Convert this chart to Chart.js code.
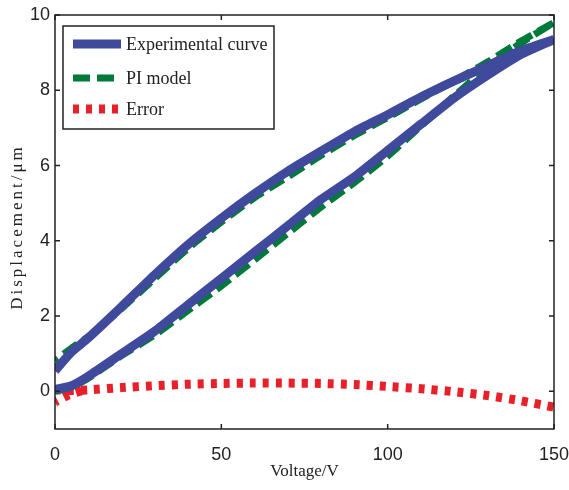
<!DOCTYPE html>
<html lang="en">
<head>
    <meta charset="UTF-8">
    <title>Hysteresis: experiment vs PI model</title>
    <script src="https://cdn.jsdelivr.net/npm/chart.js"></script>
    <style>
        body { margin: 0; background: #fff; }
        #wrap { width: 569px; height: 490px; position: relative; }
    </style>
</head>
<body>
    <div id="wrap"><canvas id="loopChart"></canvas></div>
    <script>
        // voltage samples (V), same for both branches
        const voltage = [0, 5, 10, 20, 30, 40, 50, 60, 70, 80, 90, 100, 110, 120, 130, 140, 150];

        // experimental curve (um): rising and falling branch
        const expRise = [0.05, 0.15, 0.4, 1.0, 1.6, 2.3, 3.0, 3.7, 4.4, 5.1, 5.7, 6.4, 7.1, 7.8, 8.4, 8.95, 9.35];
        const expFall = [0.55, 1.05, 1.42, 2.25, 3.1, 3.9, 4.6, 5.25, 5.85, 6.38, 6.9, 7.35, 7.82, 8.25, 8.65, 9.05, 9.35];

        // PI model (um)
        const modelRise = [0.0, 0.12, 0.35, 0.95, 1.5, 2.15, 2.8, 3.5, 4.2, 4.9, 5.55, 6.25, 7.05, 7.85, 8.6, 9.25, 9.8];
        const modelFall = [0.82, 1.15, 1.45, 2.2, 3.0, 3.8, 4.5, 5.15, 5.7, 6.27, 6.8, 7.28, 7.77, 8.25, 8.75, 9.3, 9.8];

        // error (um); the falling branch only shows apart from the rising one near 0 V
        const errRise = [0.05, 0.02, 0.04, 0.1, 0.15, 0.19, 0.21, 0.22, 0.22, 0.21, 0.18, 0.13, 0.07, -0.01, -0.11, -0.25, -0.42];
        const errFallV = [8, 4, 0];
        const errFall = [0.02, -0.1, -0.28];

        const xTicks = [0, 50, 100, 150];
        const yTicks = [0, 2, 4, 6, 8, 10];

        function loop(rise, fall) {
            const up = voltage.map((v, i) => ({ x: v, y: rise[i] }));
            const down = voltage.map((v, i) => ({ x: v, y: fall[i] })).reverse();
            return up.concat(down);
        }

        const errData = voltage.map((v, i) => ({ x: v, y: errRise[i] }));
        errData.push({ x: 150, y: null });
        errFallV.forEach((v, i) => errData.push({ x: v, y: errFall[i] }));

        const serif = '"Liberation Serif", "DejaVu Serif", serif';
        const sans = '"Liberation Sans Narrow", "Liberation Sans", Arial, sans-serif';

        // frame with inward ticks, axis titles and boxed legend
        const framePlugin = {
            id: 'frame',
            afterDraw(chart) {
                const ctx = chart.ctx;
                const a = chart.chartArea;
                const sx = chart.scales.x, sy = chart.scales.y;
                ctx.save();
                ctx.strokeStyle = '#222';
                ctx.lineWidth = 1.5;
                ctx.strokeRect(a.left, a.top, a.right - a.left, a.bottom - a.top);
                ctx.beginPath();
                xTicks.forEach(v => {
                    const px = sx.getPixelForValue(v);
                    ctx.moveTo(px, a.bottom); ctx.lineTo(px, a.bottom - 5);
                    ctx.moveTo(px, a.top); ctx.lineTo(px, a.top + 5);
                });
                yTicks.forEach(v => {
                    const py = sy.getPixelForValue(v);
                    ctx.moveTo(a.left, py); ctx.lineTo(a.left + 5, py);
                    ctx.moveTo(a.right, py); ctx.lineTo(a.right - 5, py);
                });
                ctx.stroke();

                // axis titles
                ctx.fillStyle = '#222';
                ctx.font = '17px ' + serif;
                ctx.textAlign = 'center';
                ctx.textBaseline = 'middle';
                ctx.fillText('Voltage/V', (a.left + a.right) / 2, 472);
                ctx.save();
                ctx.translate(18, 227);
                ctx.rotate(-Math.PI / 2);
                ctx.letterSpacing = '3px';
                ctx.fillText('Displacement/μm', 0, 0);
                ctx.restore();

                // legend
                ctx.fillStyle = '#fff';
                ctx.fillRect(63, 26, 211, 103);
                ctx.strokeStyle = '#222';
                ctx.lineWidth = 1.5;
                ctx.strokeRect(63, 26, 211, 103);
                const rows = [44, 78, 109];
                chart.data.datasets.forEach((ds, i) => {
                    const ry = rows[i];
                    ctx.beginPath();
                    ctx.strokeStyle = ds.borderColor;
                    ctx.lineWidth = ds.borderWidth;
                    ctx.setLineDash(ds.borderDash || []);
                    ctx.moveTo(73, ry); ctx.lineTo(121, ry);
                    ctx.stroke();
                    ctx.setLineDash([]);
                    ctx.fillStyle = '#222';
                    ctx.textAlign = 'left';
                    ctx.font = '18px ' + serif;
                    ctx.fillText(ds.label, 126, ry + 1);
                });
                ctx.restore();
            }
        };

        new Chart(document.getElementById('loopChart'), {
            type: 'scatter',
            data: {
                datasets: [
                    {
                        label: 'Experimental curve',
                        data: loop(expRise, expFall),
                        showLine: true,
                        borderColor: '#3F4A9C',
                        borderWidth: 9,
                        pointRadius: 0,
                        tension: 0.2
                    },
                    {
                        label: 'PI model',
                        data: loop(modelRise, modelFall),
                        showLine: true,
                        borderColor: '#007A3A',
                        borderWidth: 7,
                        borderDash: [17, 7],
                        pointRadius: 0,
                        tension: 0.2
                    },
                    {
                        label: 'Error',
                        data: errData,
                        showLine: true,
                        spanGaps: false,
                        borderColor: '#E8202A',
                        borderWidth: 9,
                        borderDash: [6, 7],
                        pointRadius: 0,
                        tension: 0.2
                    }
                ]
            },
            options: {
                responsive: true,
                maintainAspectRatio: false,
                animation: false,
                layout: { padding: { top: 15, right: 15, left: 0, bottom: 0 } },
                plugins: { legend: { display: false }, tooltip: { enabled: false } },
                scales: {
                    x: {
                        type: 'linear',
                        min: 0,
                        max: 150,
                        afterBuildTicks: s => { s.ticks = xTicks.map(v => ({ value: v })); },
                        afterFit: s => { s.height = 61; s.paddingLeft = 0; s.paddingRight = 0; },
                        grid: { display: false, drawTicks: false },
                        border: { display: false },
                        ticks: { color: '#222', padding: 15, font: { family: sans, size: 18 } }
                    },
                    y: {
                        type: 'linear',
                        min: -1,
                        max: 10,
                        afterBuildTicks: s => { s.ticks = yTicks.map(v => ({ value: v })); },
                        afterFit: s => { s.width = 55; s.paddingTop = 0; s.paddingBottom = 0; },
                        grid: { display: false, drawTicks: false },
                        border: { display: false },
                        ticks: { color: '#222', padding: 5, font: { family: sans, size: 18 } }
                    }
                }
            },
            plugins: [framePlugin]
        });
    </script>
</body>
</html>
